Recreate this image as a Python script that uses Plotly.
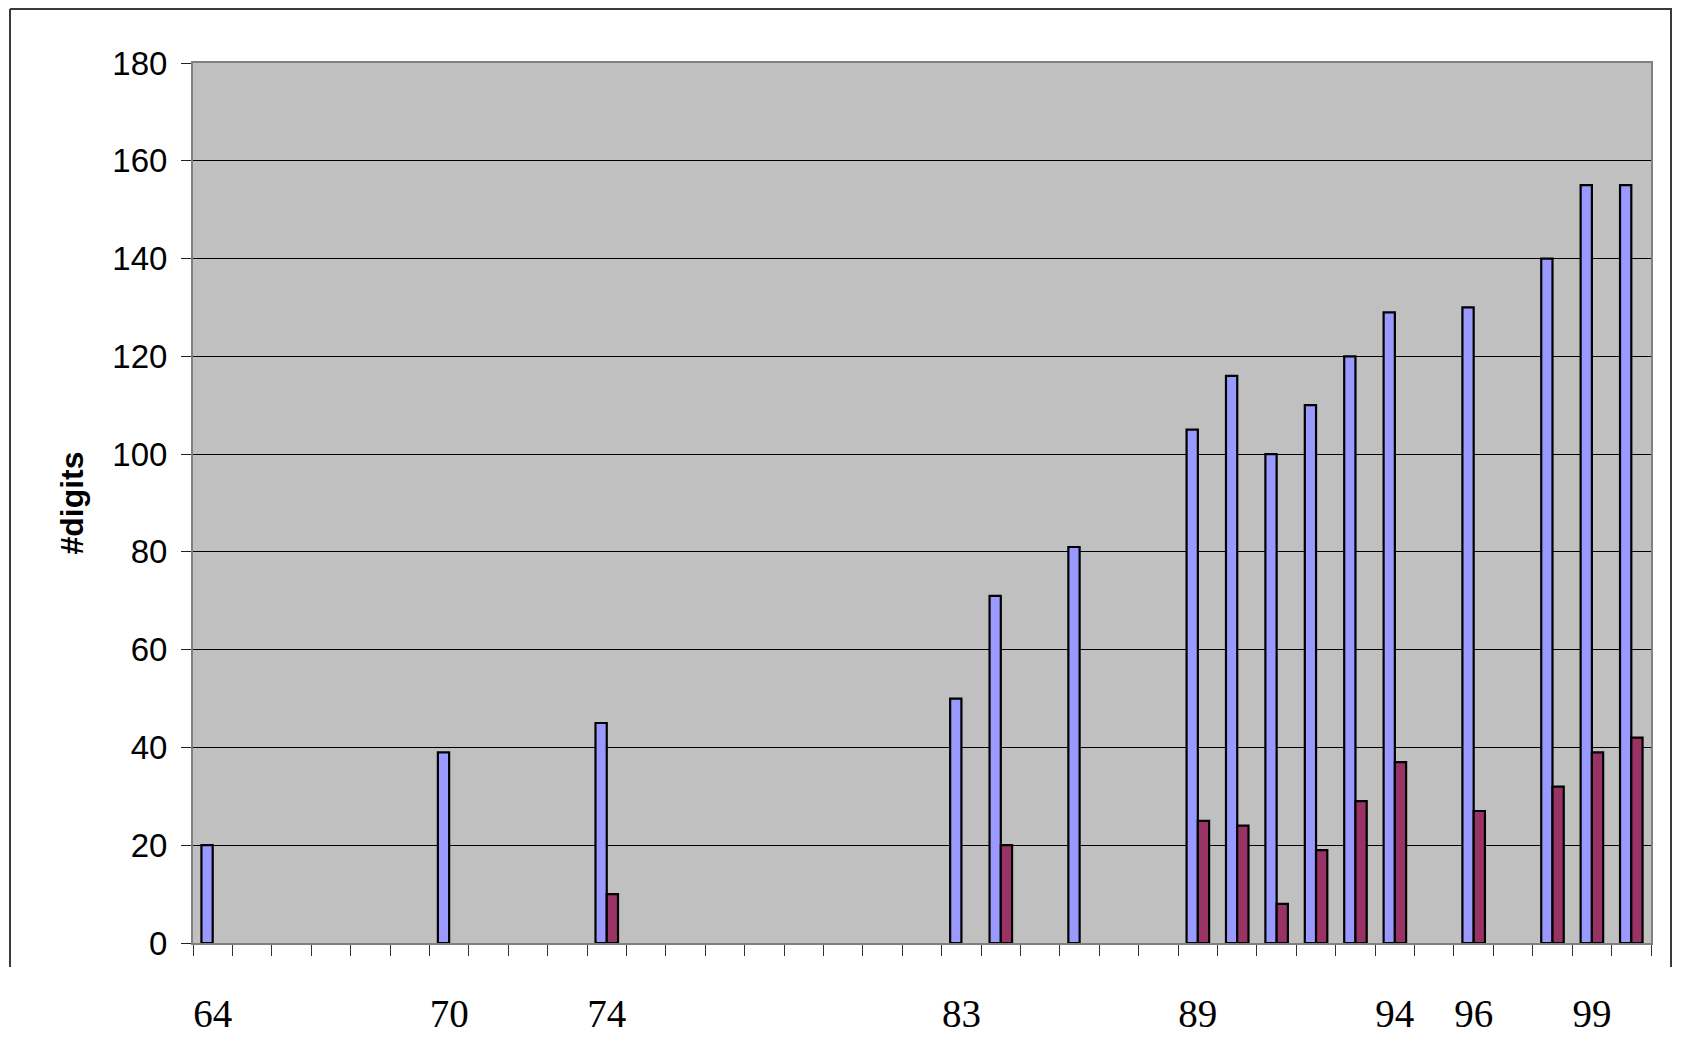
import plotly.graph_objects as go

# Data
years = [64, 70, 74, 83, 84, 86, 89, 90, 91, 92, 93, 94, 96, 98, 99, 100]
blue_digits = [20, 39, 45, 50, 71, 81, 105, 116, 100, 110, 120, 129, 130, 140, 155, 155]
red_digits = [None, None, 10, None, 20, None, 25, 24, 8, 19, 29, 37, 27, 32, 39, 42]
label_years = [64, 70, 74, 83, 89, 94, 96, 99]
label_text = ["64", "70", "74", "83", "89", "94", "96", "99"]
y_ticks = [0, 20, 40, 60, 80, 100, 120, 140, 160, 180]

first_year, last_year = 64, 100
boundaries = [y - 0.5 for y in range(first_year, last_year + 2)]

fig = go.Figure()
fig.add_trace(go.Bar(x=years, y=blue_digits, name="blue",
                     marker=dict(color="#9999FF", line=dict(color="black", width=2.2))))
fig.add_trace(go.Bar(x=years, y=red_digits, name="red",
                     marker=dict(color="#993366", line=dict(color="black", width=2.2))))

# the page has an 8px body margin on each side; size the figure to fit the window
W, H = 1665, 1030
L, R, T, B = 185, 22, 55, 95
pw, ph = W - L - R, H - T - B

def fx(p):  # figure pixel x -> paper
    return (p - L) / pw

def fy(p):  # figure pixel y -> paper
    return (H - B - p) / ph

frame_color = "#3a3a3a"
shapes = [
    dict(type="line", xref="paper", yref="paper", x0=fx(2), x1=fx(2), y0=fy(1), y1=fy(959),
         line=dict(color=frame_color, width=2)),
    dict(type="line", xref="paper", yref="paper", x0=fx(2), x1=fx(1664), y0=fy(1), y1=fy(1),
         line=dict(color=frame_color, width=2)),
    dict(type="line", xref="paper", yref="paper", x0=fx(1663), x1=fx(1663), y0=fy(1), y1=fy(959),
         line=dict(color=frame_color, width=2)),
]

fig.update_layout(
    width=W, height=H,
    margin=dict(l=L, r=R, t=T, b=B, pad=0, autoexpand=False),
    paper_bgcolor="white",
    plot_bgcolor="#C0C0C0",
    barmode="group",
    bargap=1.5 / 3.5,
    bargroupgap=0,
    showlegend=False,
    shapes=shapes,
    xaxis=dict(
        range=[first_year - 0.5, last_year + 0.5],
        automargin=False,
        tickmode="array", tickvals=label_years, ticktext=label_text,
        ticks="", showgrid=False, zeroline=False,
        tickfont=dict(family="Liberation Serif", size=39, color="black"),
        ticklabelstandoff=35,
        showline=True, linecolor="#808080", linewidth=2, mirror=True,
        minor=dict(tickmode="array", tickvals=boundaries, ticks="outside", ticklen=11,
                   tickcolor="#333333", tickwidth=1, showgrid=False),
    ),
    yaxis=dict(
        range=[0, 180],
        automargin=False,
        tickmode="array", tickvals=y_ticks,
        ticks="outside", ticklen=10, tickcolor="#222222", tickwidth=1,
        showgrid=True, gridcolor="black", gridwidth=1, zeroline=False,
        tickfont=dict(family="Liberation Sans", size=33, color="black"),
        ticklabelstandoff=7,
        showline=True, linecolor="#808080", linewidth=2, mirror=True,
        title=dict(text="<b>#digits</b>", standoff=19,
                   font=dict(family="Liberation Sans", size=32, color="black")),
    ),
)

fig.write_html("out.html")
